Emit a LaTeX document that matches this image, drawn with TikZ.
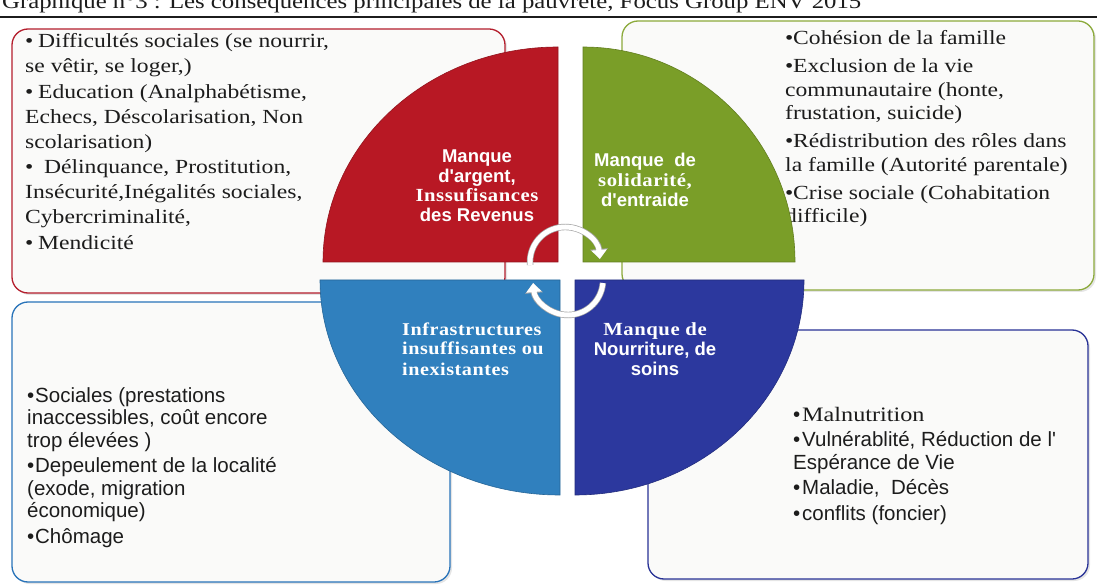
\documentclass[tikz,border=0pt]{standalone}
\usepackage{fontspec}
\setmainfont{Liberation Serif}[FakeStretch=1.18]
\setsansfont{Liberation Sans}
\newfontfamily\lblserif{Liberation Serif}[FakeStretch=1.12, LetterSpace=3]
\usepackage{tikz}
\usetikzlibrary{arrows.meta, shadows}
\definecolor{ink}{RGB}{28,28,28}
\definecolor{boxfill}{RGB}{250,250,249}
\definecolor{argred}{RGB}{184,24,36}
\definecolor{solgreen}{RGB}{122,158,40}
\definecolor{infblue}{RGB}{48,128,190}
\definecolor{nournavy}{RGB}{44,56,158}
\definecolor{argline}{RGB}{180,30,45}
\definecolor{solline}{RGB}{140,170,60}
\definecolor{infline}{RGB}{40,115,185}
\definecolor{nourline}{RGB}{40,50,150}
\newlength{\bulw}
\newcommand{\bitem}[1]{\par\noindent\hangindent=\bulw\hangafter=1\makebox[\bulw][l]{\textbullet}#1}
\newcommand{\apos}{\textquotesingle}
\tikzset{
  infobox/.style={rectangle, rounded corners=16pt, draw=#1, fill=boxfill,
    line width=1.3pt, drop shadow={opacity=0.2, shadow xshift=2pt, shadow yshift=-2pt}},
  quarter/.style={fill=#1, draw=#1!80!black, line width=0.6pt},
  listtxt/.style={anchor=base west, inner sep=0pt, text=ink},
  pietxt/.style={anchor=base, inner sep=0pt, text=white, font=\bfseries},
  cyclearrow/.style={white, line width=5pt, -{Triangle[length=9pt, width=15pt]},
    preaction={draw=black!35, line width=6.4pt, -{Triangle[length=10pt, width=17pt]}}}
}

\begin{document}
\begin{tikzpicture}[x=1pt, y=1pt]
  \clip (0,0) rectangle (1097,587);
  \fill[white] (0,0) rectangle (1097,587);

  \node[anchor=base west, inner sep=0pt, text=ink, font=\fontsize{21}{26}\selectfont] (titre) at (2,578)
    {Graphique n°3 : Les conséquences principales de la pauvreté, Focus Group ENV 2015};
  \draw[line width=1.4pt, ink] (0,570) -- (1097,570);

  % boites
  \node[infobox=argline, minimum width=493pt, minimum height=264pt] (argbox) at (258.5,426) {};
  \node[infobox=solline, minimum width=472pt, minimum height=269pt] (solbox) at (858,431.5) {};
  \node[infobox=infline, minimum width=438pt, minimum height=280pt] (infbox) at (231,145) {};
  \node[infobox=nourline, minimum width=440pt, minimum height=249pt] (nourbox) at (868,132.5) {};

  \node[listtxt] (argtxt) at (25,539) {\parbox[t]{400pt}{\raggedright
    \fontsize{20}{25}\selectfont\setlength{\bulw}{13pt}\setlength{\parskip}{0.5pt}
    \bitem{Difficultés sociales (se nourrir,\\ se vêtir, se loger,)}
    \bitem{Education (Analphabétisme,\\ Echecs, Déscolarisation, Non\\ scolarisation)}
    \bitem{\ Délinquance, Prostitution,\\ Insécurité,Inégalités sociales,\\ Cybercriminalité,}
    \bitem{Mendicité}}};
  \node[listtxt] (soltxt) at (785,542) {\parbox[t]{400pt}{\raggedright
    \fontsize{20}{23.5}\selectfont\setlength{\bulw}{8pt}\setlength{\parskip}{4.5pt}
    \bitem{Cohésion de la famille}
    \bitem{Exclusion de la vie\\ communautaire (honte,\\ frustation, suicide)}
    \bitem{Rédistribution des rôles dans\\ la famille (Autorité parentale)}
    \bitem{Crise sociale (Cohabitation\\ difficile)}}};
  \node[listtxt] (inftxt) at (27,185) {\parbox[t]{400pt}{\raggedright\sffamily
    \fontsize{20.5}{22.5}\selectfont\setlength{\bulw}{8pt}\setlength{\parskip}{3pt}
    \bitem{Sociales (prestations\\ inaccessibles, coût encore\\ trop élevées )}
    \bitem{Depeulement de la localité\\ (exode, migration\\ économique)}
    \bitem{Chômage}}};
  \node[listtxt] (nourtxt) at (793,166) {\parbox[t]{300pt}{\raggedright\sffamily
    \fontsize{20.5}{22.5}\selectfont\setlength{\bulw}{9pt}\setlength{\parskip}{3pt}
    \bitem{{\rmfamily Malnutrition}}
    \bitem{Vulnérablité, Réduction de l\apos\\ Espérance de Vie}
    \bitem{Maladie,\ \ Décès}
    \bitem{conflits (foncier)}}};

  % secteurs
  \draw[quarter=argred] (558,325) -- (323,325) arc[start angle=180, end angle=90, x radius=235, y radius=215] -- cycle;
  \draw[quarter=solgreen] (583,325) -- (583,540) arc[start angle=90, end angle=0, x radius=212, y radius=215] -- cycle;
  \draw[quarter=infblue] (560,307) -- (320,307) arc[start angle=180, end angle=270, x radius=240, y radius=215] -- cycle;
  \draw[quarter=nournavy] (575,307) -- (804,307) arc[start angle=0, end angle=-90, x radius=229, y radius=215] -- cycle;

  \node[pietxt] (arglbl) at (477,424) {\parbox[t]{200pt}{\centering\sffamily\fontsize{18.5}{19.5}\selectfont
    Manque\\ d\apos argent,\\ {\lblserif Inssufisances}\\ des Revenus}};
  \node[pietxt] (sollbl) at (645,420) {\parbox[t]{200pt}{\centering\sffamily\fontsize{18.5}{20}\selectfont
    Manque\ \ de\\ {\lblserif solidarité,}\\ d\apos entraide}};
  \node[pietxt, anchor=base west] (inflbl) at (402,252) {\parbox[t]{200pt}{\raggedright\lblserif\fontsize{18}{20}\selectfont
    Infrastructures\\ insuffisantes ou\\ inexistantes}};
  \node[pietxt] (nourlbl) at (655,252) {\parbox[t]{200pt}{\centering\sffamily\fontsize{18.5}{20.5}\selectfont
    {\lblserif Manque de}\\ Nourriture, de\\ soins}};

  % fleches du cycle
  \coordinate (cyctop) at (565,325);
  \coordinate (cycbot) at (568,307);
  \draw[cyclearrow] ([shift={(185:35)}]cyctop) arc[start angle=185, end angle=5, radius=35];
  \draw[cyclearrow] ([shift={(-5:35)}]cycbot) arc[start angle=-5, end angle=-175, radius=35];
\end{tikzpicture}
\end{document}
